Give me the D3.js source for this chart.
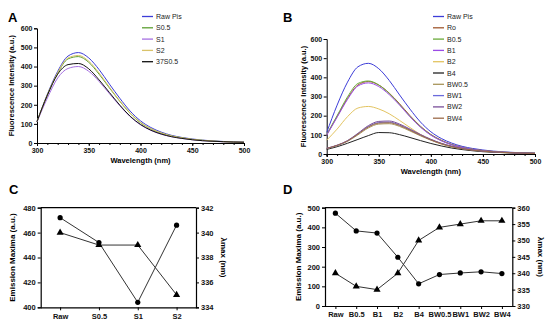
<!DOCTYPE html>
<html>
<head>
<meta charset="utf-8">
<script src="https://cdn.jsdelivr.net/npm/d3@7"></script>
<style>
  body { margin: 0; background: #fff; }
  text { font-family: "Liberation Sans", Arial, sans-serif; }
</style>
</head>
<body>
<div id="container"></div>
<script>
// ---- data ----
const wavelengths = [300, 310, 320, 330, 340, 350, 360, 370, 380, 390, 400,
                     410, 420, 430, 440, 450, 460, 470, 480, 490, 500];

const rawPis  = [112, 255, 375, 455, 473, 445, 384, 308, 234, 167, 116, 81, 57, 40, 29, 21, 15, 11, 8, 6, 4];
const s05     = [112, 250, 365, 440, 452, 422, 360, 288, 218, 155, 106, 74, 52, 37, 27, 19, 14, 10, 7, 5, 4];
const s1      = [110, 235, 340, 390, 400, 375, 322, 258, 195, 138, 95, 66, 46, 33, 24, 17, 12, 9, 6, 5, 4];
const s2      = [112, 252, 368, 445, 458, 428, 366, 292, 220, 157, 108, 75, 53, 37, 27, 19, 14, 10, 7, 5, 4];
const s37_05  = [112, 250, 360, 410, 416, 388, 330, 264, 198, 140, 97, 67, 47, 33, 24, 17, 12, 9, 7, 5, 4];

const ro      = [100, 195, 290, 360, 378, 360, 318, 262, 200, 145, 102, 72, 50, 35, 25, 18, 13, 9, 7, 5, 4];
const b05     = [102, 200, 298, 368, 381, 360, 316, 258, 196, 142, 100, 70, 49, 34, 24, 17, 12, 9, 7, 5, 4];
const b1      = [98, 192, 285, 355, 371, 352, 310, 255, 194, 140, 98, 69, 48, 34, 24, 17, 12, 9, 7, 5, 4];
const b2      = [72, 130, 195, 240, 248, 235, 210, 175, 138, 102, 74, 52, 37, 26, 19, 14, 10, 7, 5, 4, 3];
const b4      = [24, 38, 56, 76, 96, 112, 111, 101, 86, 70, 55, 42, 31, 23, 17, 12, 9, 7, 5, 4, 3];
const bw05    = [28, 44, 66, 100, 136, 156, 158, 144, 120, 95, 72, 53, 38, 28, 20, 15, 11, 8, 6, 4, 3];
const bw1     = [29, 45, 68, 105, 143, 164, 166, 151, 126, 99, 75, 55, 40, 29, 21, 15, 11, 8, 6, 4, 3];
const bw2     = [30, 46, 70, 108, 148, 170, 172, 156, 130, 102, 77, 56, 41, 29, 21, 15, 11, 8, 6, 4, 3];
const bw4     = [29, 45, 68, 104, 141, 161, 163, 149, 124, 98, 74, 54, 39, 28, 20, 15, 11, 8, 6, 4, 3];

const seriesA = ["Raw Pis", "S0.5", "S1", "S2", "37S0.5"];
const colorsA = ["#3d3dd8", "#5c9f31", "#a670e2", "#d9c36a", "#111111"];
const valuesA = [rawPis, s05, s1, s2, s37_05];

const seriesB = ["Raw Pis", "Ro", "B0.5", "B1", "B2", "B4", "BW0.5", "BW1", "BW2", "BW4"];
const colorsB = ["#3d3dd8", "#a0582f", "#6aaa3a", "#9b4be6", "#e3c461", "#222222",
                 "#a8955a", "#6b6bdc", "#7a4f9a", "#9c6b4a"];
const valuesB = [rawPis, ro, b05, b1, b2, b4, bw05, bw1, bw2, bw4];

const catsC = ["Raw", "S0.5", "S1", "S2"];
const emissionC = [472, 452, 404, 466];
const lambdaC = [340, 339, 339, 335];

const catsD = ["Raw", "B0.5", "B1", "B2", "B4", "BW0.5", "BW1", "BW2", "BW4"];
const emissionD = [472, 382, 371, 248, 113, 160, 168, 174, 165];
const lambdaD = [340, 336, 335, 340, 350, 354, 355, 356, 356];

// ---- chart ----
const svg = d3.select("#container").append("svg")
    .attr("width", 550).attr("height", 330);

const panelLabel = (x, y, t) => svg.append("text")
    .attr("x", x).attr("y", y)
    .attr("font-size", 13).attr("font-weight", "bold").text(t);

const styleAxis = (g, fs) => {
    g.selectAll("path, line").attr("stroke", "#000");
    g.selectAll("text").attr("font-size", fs).attr("font-weight", "bold")
        .attr("font-family", "Liberation Sans, Arial, sans-serif").attr("fill", "#111");
};

const spectrum = (box, names, colors, values, legend) => {
    const x = d3.scaleLinear().domain([300, 500]).range([box.left, box.right]);
    const y = d3.scaleLinear().domain([0, 600]).range([box.bottom, box.top]);

    const minor = svg.append("g").attr("transform", `translate(0,${box.bottom})`)
        .call(d3.axisBottom(x).tickValues(d3.range(300, 501, 10)).tickSize(2).tickFormat(""));
    styleAxis(minor, 7);
    const xa = svg.append("g").attr("transform", `translate(0,${box.bottom})`)
        .call(d3.axisBottom(x).tickValues([300, 350, 400, 450, 500]).tickSize(3).tickPadding(2));
    styleAxis(xa, 7);
    const ya = svg.append("g").attr("transform", `translate(${box.left},0)`)
        .call(d3.axisLeft(y).tickValues(d3.range(0, 601, 100)).tickSize(3).tickPadding(1.5));
    styleAxis(ya, 7);

    const line = d3.line()
        .x((d, i) => x(wavelengths[i]))
        .y(d => y(d))
        .curve(d3.curveMonotoneX);

    values.forEach((v, i) => {
        svg.append("path").attr("d", line(v))
            .attr("fill", "none").attr("stroke", colors[i]).attr("stroke-width", 1);
    });

    names.forEach((n, i) => {
        const yy = legend.y + i * 11.3;
        svg.append("line").attr("x1", legend.x).attr("x2", legend.x + 11)
            .attr("y1", yy).attr("y2", yy).attr("stroke", colors[i]).attr("stroke-width", 1.3);
        svg.append("text").attr("x", legend.x + 14).attr("y", yy + 2.5)
            .attr("font-size", 7).attr("fill", "#222").text(n);
    });

    svg.append("text").attr("x", (box.left + box.right) / 2).attr("y", box.xlab)
        .attr("text-anchor", "middle").attr("font-size", 7.5).attr("font-weight", "bold")
        .text("Wavelength (nm)");
    svg.append("text").attr("transform", `translate(${box.ylab},${(box.top + box.bottom) / 2}) rotate(-90)`)
        .attr("text-anchor", "middle").attr("font-size", 7.5).attr("font-weight", "bold")
        .text("Fluorescence Intensity (a.u.)");
};

const dual = (box, cats, em, lam, yl, yr, tl, tr) => {
    const x = d3.scalePoint().domain(cats).range([box.left, box.right]).padding(0.5);
    const y1 = d3.scaleLinear().domain(yl).range([box.bottom, box.top]);
    const y2 = d3.scaleLinear().domain(yr).range([box.bottom, box.top]);

    svg.append("line").attr("x1", box.left).attr("x2", box.right)
        .attr("y1", box.top).attr("y2", box.top).attr("stroke", "#000").attr("stroke-width", 1.2);

    const xa = svg.append("g").attr("transform", `translate(0,${box.bottom})`)
        .call(d3.axisBottom(x).tickSize(3).tickPadding(3).tickSizeOuter(0));
    styleAxis(xa, box.fs);
    const ya = svg.append("g").attr("transform", `translate(${box.left},0)`)
        .call(d3.axisLeft(y1).tickValues(tl).tickSize(3).tickPadding(2));
    styleAxis(ya, 7.5);
    const yb = svg.append("g").attr("transform", `translate(${box.right},0)`)
        .call(d3.axisRight(y2).tickValues(tr).tickSize(3).tickPadding(2));
    styleAxis(yb, 7.5);
    [xa, ya, yb].forEach(g => g.select(".domain").attr("stroke-width", 1.2));

    const l1 = d3.line().x((d, i) => x(cats[i])).y(d => y1(d));
    const l2 = d3.line().x((d, i) => x(cats[i])).y(d => y2(d));
    svg.append("path").attr("d", l1(em)).attr("fill", "none").attr("stroke", "#333").attr("stroke-width", 1);
    svg.append("path").attr("d", l2(lam)).attr("fill", "none").attr("stroke", "#333").attr("stroke-width", 1);

    svg.selectAll(null).data(em).join("circle")
        .attr("cx", (d, i) => x(cats[i])).attr("cy", d => y1(d)).attr("r", 2.6).attr("fill", "#000");
    svg.selectAll(null).data(lam).join("path")
        .attr("d", d3.symbol(d3.symbolTriangle, 22))
        .attr("transform", (d, i) => `translate(${x(cats[i])},${y2(d)})`).attr("fill", "#000");

    svg.append("text").attr("transform", `translate(${box.ll},${(box.top + box.bottom) / 2}) rotate(-90)`)
        .attr("text-anchor", "middle").attr("font-size", 8).attr("font-weight", "bold")
        .text("Emission Maxima (a.u.)");
    svg.append("text").attr("transform", `translate(${box.rl},${(box.top + box.bottom) / 2}) rotate(90)`)
        .attr("text-anchor", "middle").attr("font-size", 8).attr("font-weight", "bold")
        .text("λmax (nm)");
};

panelLabel(8, 22, "A");
spectrum({left: 37, right: 244, top: 28.3, bottom: 143, xlab: 163, ylab: 14},
         seriesA, colorsA, valuesA, {x: 142, y: 16.5});

panelLabel(283, 22, "B");
spectrum({left: 326.7, right: 535, top: 39, bottom: 154, xlab: 174, ylab: 306},
         seriesB, colorsB, valuesB, {x: 433, y: 16.5});

panelLabel(9, 194, "C");
dual({left: 40.7, right: 196, top: 207.7, bottom: 307.3, ll: 15, rl: 221, fs: 7.5},
     catsC, emissionC, lambdaC, [400, 480], [334, 342],
     d3.range(400, 481, 20), d3.range(334, 343, 2));

panelLabel(283, 194, "D");
dual({left: 325, right: 512.3, top: 207.7, bottom: 306, ll: 301, rl: 538, fs: 7.5},
     catsD, emissionD, lambdaD, [0, 500], [330, 360],
     d3.range(0, 501, 100), d3.range(330, 361, 5));
</script>
</body>
</html>
